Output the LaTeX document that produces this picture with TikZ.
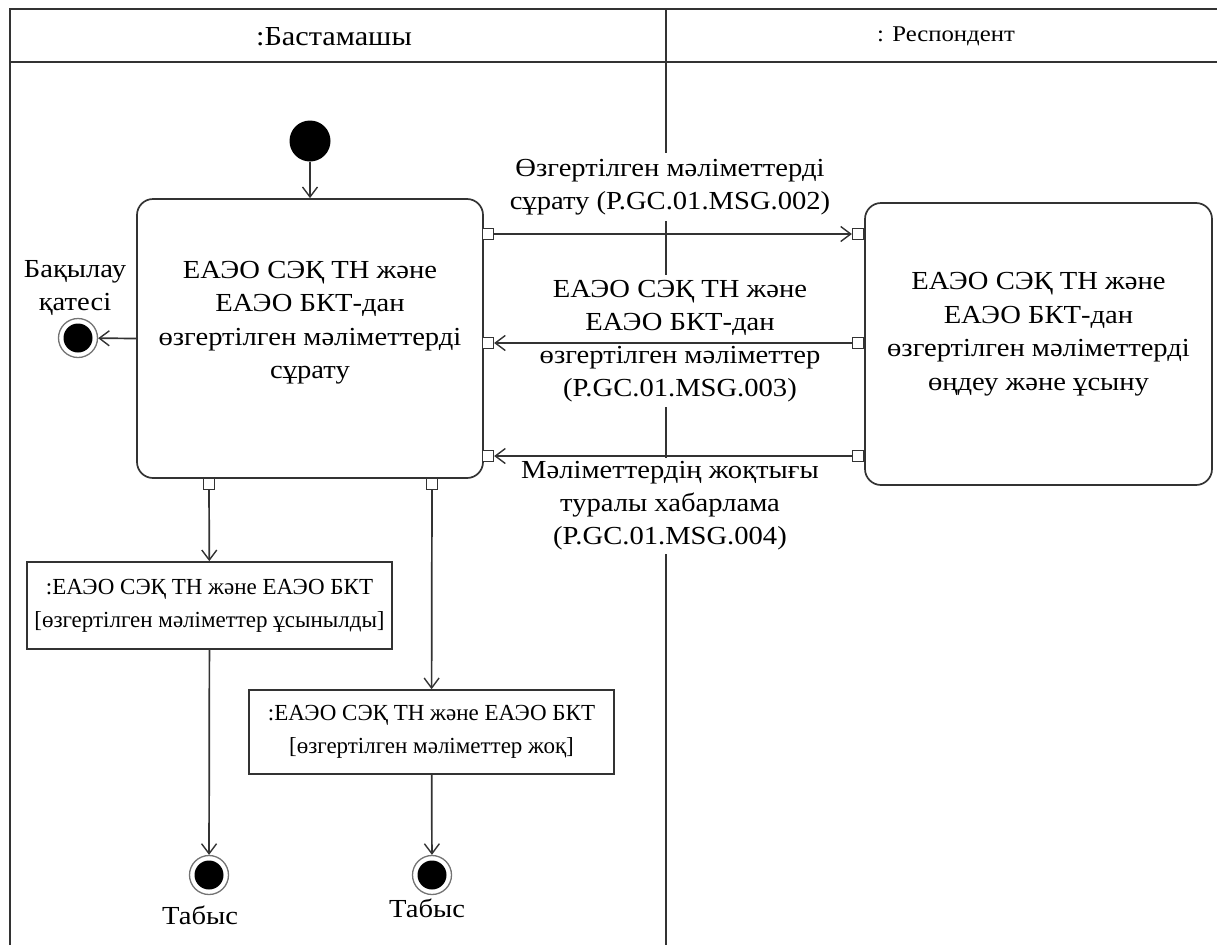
\documentclass[tikz,border=0pt]{standalone}
\usepackage{fontspec}
\setmainfont{Liberation Serif}[FakeStretch=1.1]
\newfontfamily\objfont{Liberation Serif}
\usetikzlibrary{arrows.meta}
\tikzset{%
  lane/.style = {draw=black!80, line width=1.8pt},
  flow/.style = {draw=black!80, line width=1.7pt,
    -{Straight Barb[length=10pt,width=15pt,line width=1.4pt]}},
  action/.style = {shape=rectangle, rounded corners=16pt,
    draw=black!80, line width=1.7pt},
  actext/.style = {align=center, inner sep=0pt,
    font=\fontsize{26}{33.5}\selectfont},
  object/.style = {shape=rectangle, draw=black!80, line width=1.7pt,
    align=center, inner xsep=2pt, font=\objfont\fontsize{23}{33}\selectfont},
  port/.style = {shape=rectangle, draw=black!80, line width=1.3pt,
    fill=white, minimum size=11pt, inner sep=0pt},
  start/.style = {shape=circle, fill=black, minimum size=41pt, inner sep=0pt},
  final/.style = {shape=circle, draw=black!55, line width=1.3pt,
    minimum size=39pt, inner sep=0pt,
    path picture={\fill (path picture bounding box.center) circle (14.5pt);}},
  msg/.style = {align=center, fill=white, inner xsep=2pt,
    font=\fontsize{26}{33}\selectfont},
  caption/.style = {align=center, inner sep=0pt,
    font=\fontsize{26}{33}\selectfont}
}

\begin{document}
\begin{tikzpicture}[x=1pt,y=-1pt]
  \useasboundingbox (0,0) rectangle (1217,945);

  % swimlanes
  \draw[lane] (10,945) -- (10,9) -- (1217,9);
  \draw[lane] (10,62) -- (1217,62);
  \draw[lane] (666,9) -- (666,945);
  \node[inner sep=0pt, font=\fontsize{27.5}{30}\selectfont] (lane1) at (334,37) {:Бастамашы};
  \node[inner sep=0pt, font=\fontsize{22.5}{26}\selectfont] (lane2) at (946,36) {: Респондент};

  % actions
  \node[start] (init) at (310,141) {};
  \node[action, minimum width=346pt, minimum height=279pt] (req) at (310,338.5) {};
  \node[actext] (req-text) at (req.center) [yshift=16pt]
    {ЕАЭО СЭҚ ТН және\\ЕАЭО БКТ-дан\\өзгертілген мәліметтерді\\сұрату};
  \node[action, minimum width=347pt, minimum height=282pt] (proc) at (1038.5,344) {};
  \node[actext] (proc-text) at (proc.center) [yshift=10pt]
    {ЕАЭО СЭҚ ТН және\\ЕАЭО БКТ-дан\\өзгертілген мәліметтерді\\өңдеу және ұсыну};

  % pins
  \node[port] (out1) at (488,234) {};
  \node[port] (in2)  at (488,343) {};
  \node[port] (in3)  at (488,456) {};
  \node[port] (in1)  at (858,234) {};
  \node[port] (out2) at (858,343) {};
  \node[port] (out3) at (858,456) {};
  \node[port] (pinA) at (209,484) {};
  \node[port] (pinB) at (432,484) {};

  % messages
  \node[msg, inner ysep=6pt] (m1) at (670,187)
    {Өзгертілген мәліметтерді\\сұрату (P.GC.01.MSG.002)};
  \node[msg, inner ysep=5pt] (m2) at (680,341)
    {ЕАЭО СЭҚ ТН және\\ЕАЭО БКТ-дан\\өзгертілген мәліметтер\\(P.GC.01.MSG.003)};
  \node[msg, inner ysep=4pt] (m3) at (670,506)
    {Мәліметтердің жоқтығы\\туралы хабарлама\\(P.GC.01.MSG.004)};

  % objects
  \node[object, minimum width=365pt, minimum height=87pt] (obj1) at (209.5,605.5)
    {:ЕАЭО СЭҚ ТН және ЕАЭО БКТ\\{[}өзгертілген мәліметтер ұсынылды{]}};
  \node[object, minimum width=365pt, minimum height=84pt] (obj2) at (431.5,732)
    {:ЕАЭО СЭҚ ТН және ЕАЭО БКТ\\{[}өзгертілген мәліметтер жоқ{]}};

  % final nodes
  \node[final] (err) at (78,338) {};
  \node[caption] (err-text) at (75,288) {Бақылау\\қатесі};
  \node[final] (ok1) at (209,875) {};
  \node[caption] (ok1-text) at (200,915) {Табыс};
  \node[final] (ok2) at (432,875) {};
  \node[caption] (ok2-text) at (427,908) {Табыс};

  % flows
  \draw[flow] (init) -- (req.north);
  \draw[flow] (req.west) -- (err);
  \draw[flow] (out1) -- (in1);
  \draw[flow] (out2) -- (in2);
  \draw[flow] (out3) -- (in3);
  \draw[flow] (pinA) -- (obj1);
  \draw[flow] (pinB) -- (obj2);
  \draw[flow] (obj1) -- (ok1);
  \draw[flow] (obj2) -- (ok2);
\end{tikzpicture}
\end{document}
